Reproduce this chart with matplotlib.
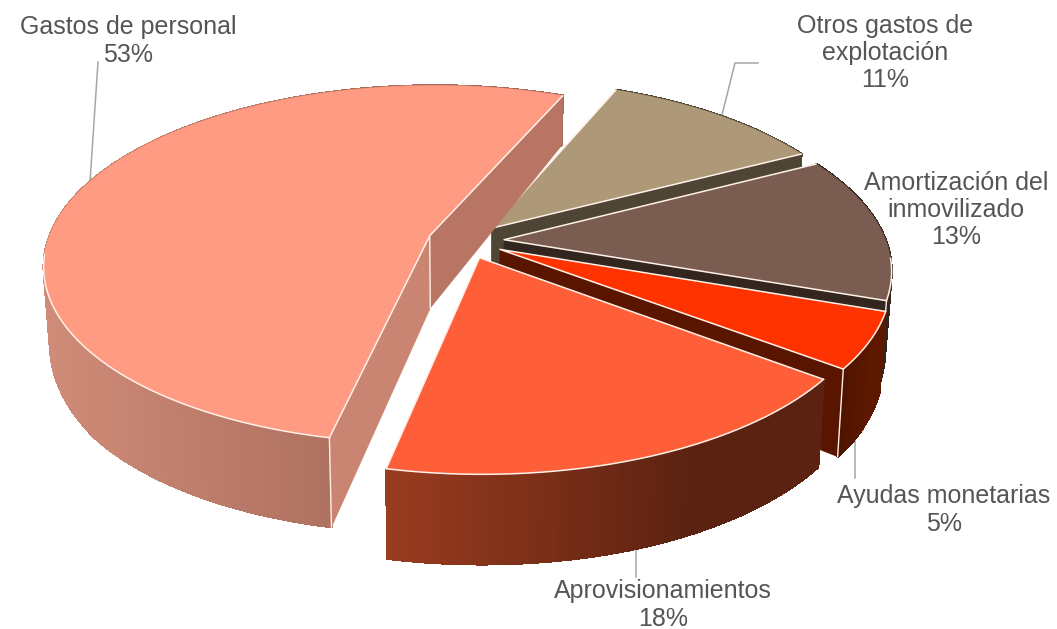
import numpy as np
import matplotlib
matplotlib.use("Agg")
import matplotlib.pyplot as plt
from matplotlib.colors import to_rgb
from matplotlib.patches import Polygon

# slices in drawing order, far to near
labels = ["Otros gastos de\nexplotación\n11%", "Amortización del\ninmovilizado\n13%", "Ayudas monetarias\n5%", "Aprovisionamientos\n18%", "Gastos de personal\n53%"]
values = [11, 13, 5, 18, 53]
top_colors = ["#ad9878", "#7a5c50", "#ff3300", "#ff5f38", "#ff9b82"]
rim_left = ["#4f4534", "#33261f", "#4e1400", "#9a3c20", "#cf8c78"]
rim_right = ["#4f4534", "#33261f", "#5e1800", "#5c2211", "#a66a5a"]
cut_start = ["#4f4534", "#33261f", "#5a1500", "#5c2211", "#c98572"]
cut_end = ["#4f4534", "#33261f", "#5a1500", "#5c2211", "#b87564"]
label_x = [885, 956, 944, 663, 128]
label_y = [53, 210, 510, 605, 41]

# leader lines
leaders = [([98, 90], [62, 182]), ([758, 735, 722], [63, 63, 115]), ([855, 855], [428, 478]), ([636, 636], [545, 577])]

start_angle = 22.8
explode = 0.1
cx, cy = 466, 241
rx, ry = 382, 176
persp = 0.16


def project(u, v):
    w = 1 / (1 + persp * v)
    return cx + rx * u * w, cy - ry * v * w, w


def drop(x, y, w):
    # bottom of the wall under a top point
    d = np.interp(w, [0.87, 1.0, 1.1, 1.2], [50, 73, 87, 90])
    return cx + (x - cx) * 0.985, y + d


def mix(c1, c2, t):
    c1, c2 = np.array(to_rgb(c1)), np.array(to_rgb(c2))
    return tuple(c1 + (c2 - c1) * t)


fig = plt.figure(figsize=(10.57, 6.29), dpi=100)
ax = fig.add_axes([0, 0, 1, 1])
ax.set_xlim(0, 1057)
ax.set_ylim(629, 0)
ax.axis("off")

for lx, ly in leaders:
    ax.plot(lx, ly, color="#a6a6a6", lw=1.1, zorder=1)

fractions = np.array(values) / sum(values)
starts = start_angle + 360 * np.concatenate([[0], np.cumsum(fractions)[:-1]])
z = 2
for i in range(len(values)):
    a0 = np.radians(starts[i])
    a1 = a0 + np.radians(360 * fractions[i])
    mid = (a0 + a1) / 2
    ou, ov = explode * np.sin(mid), explode * np.cos(mid)
    ang = np.linspace(a0, a1, 160)
    ax_, ay_, aw = project(ou + np.sin(ang), ov + np.cos(ang))
    bx_, by_ = drop(ax_, ay_, aw)
    ox, oy, ow = project(ou, ov)
    obx, oby = drop(ox, oy, ow)

    # outer wall, gradient runs with x
    xmin, xmax = ax_.min(), ax_.max()
    for j in range(len(ang) - 1):
        t = min(1, (ax_[j] - xmin) / max(xmax - xmin, 1) / 0.7)
        col = mix(rim_left[i], rim_right[i], t)
        ax.add_patch(Polygon([(ax_[j], ay_[j]), (ax_[j + 1], ay_[j + 1]), (bx_[j + 1], by_[j + 1]), (bx_[j], by_[j])], closed=True, fc=col, ec=col, lw=1, antialiased=False, zorder=z))
    # cut faces, only those turned to the viewer
    end_shown = np.sin(a1) > 0
    start_shown = np.sin(a0) < 0
    if end_shown:
        ax.add_patch(Polygon([(ox, oy), (ax_[-1], ay_[-1]), (bx_[-1], by_[-1]), (obx, oby)], closed=True, fc=cut_end[i], ec=cut_end[i], lw=0.5, zorder=z))
    if start_shown:
        ax.add_patch(Polygon([(ox, oy), (ax_[0], ay_[0]), (bx_[0], by_[0]), (obx, oby)], closed=True, fc=cut_start[i], ec=cut_start[i], lw=0.5, zorder=z))
    # top
    pts = np.column_stack([np.r_[ox, ax_], np.r_[oy, ay_]])
    ax.add_patch(Polygon(pts, closed=True, fc=top_colors[i], ec=top_colors[i], lw=0.3, zorder=z + 0.1))
    # light edges
    edge = "#fff0e8"
    ax.plot([ax_[0], ox, ax_[-1]], [ay_[0], oy, ay_[-1]], color=edge, lw=1.1, zorder=z + 0.2, solid_capstyle="round")
    near = np.cos(ang) < -0.1
    ax.plot(ax_[near], ay_[near], color=edge, lw=1.1, zorder=z + 0.2)
    if values[i] == max(values):
        ax.plot([ox, obx], [oy, oby], color=edge, lw=1, zorder=z + 0.2)
    if near[0] and start_shown:
        ax.plot([ax_[0], bx_[0]], [ay_[0], by_[0]], color=edge, lw=1, zorder=z + 0.2)
    if near[-1] and end_shown:
        ax.plot([ax_[-1], bx_[-1]], [ay_[-1], by_[-1]], color=edge, lw=1, zorder=z + 0.2)
    z += 1

for lab, x, y in zip(labels, label_x, label_y):
    ax.text(x, y, lab, ha="center", va="center", fontsize=18, color="#555555", family="Liberation Sans", linespacing=1.17, zorder=20)

fig.savefig("out.png", dpi=100, facecolor="white")
